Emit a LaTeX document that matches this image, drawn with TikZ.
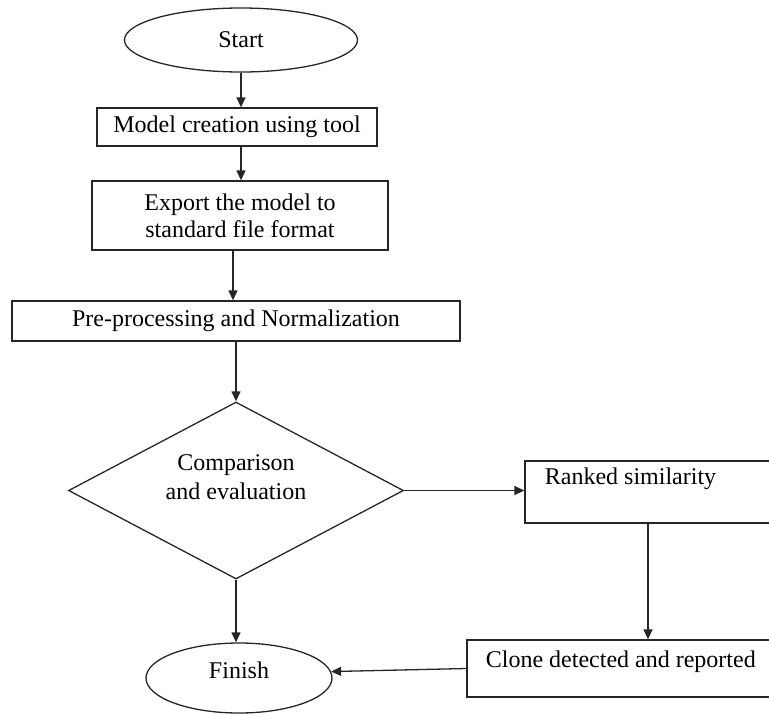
\documentclass[tikz,border=0pt]{standalone}
\usepackage{fontspec}
\setmainfont{Liberation Serif}
\usetikzlibrary{shapes.geometric,arrows.meta}
\begin{document}
\begin{tikzpicture}[x=1pt,y=-1pt,
  every node/.style={font=\fontsize{24}{27}\selectfont, text=black},
  line/.style={draw=black!85, line width=1.3pt},
  arr/.style={line, -{Triangle[length=10pt,width=9pt]}},
  boxnode/.style={line, rectangle, inner sep=0pt, align=center},
  ovalnode/.style={line, ellipse, inner sep=0pt},
  dianode/.style={line, diamond, inner sep=0pt}
]
\useasboundingbox (0,0) rectangle (769,713);
\clip (0,0) rectangle (769,713);

\node[ovalnode, minimum width=233pt, minimum height=64pt] (start) at (241,40) {Start};
\node[boxnode, minimum width=280pt, minimum height=38pt] (m1) at (237,127) {Model creation using tool};
\node[boxnode, minimum width=296pt, minimum height=69pt] (m2) at (240,215.5) {Export the model to\\standard file format};
\node[boxnode, minimum width=448pt, minimum height=40pt] (m3) at (236,321) {Pre-processing and Normalization};
\node[dianode, minimum width=335pt, minimum height=177pt,
      label={[align=center, yshift=13pt, font=\fontsize{24}{29}\selectfont]center:Comparison\\and evaluation}] (dia) at (236,490.5) {};
\node[boxnode, minimum width=250pt, minimum height=62pt,
      label={[anchor=base west, xshift=17pt, yshift=-24pt]north west:Ranked similarity}] (ranked) at (650,492) {};
\node[boxnode, minimum width=308pt, minimum height=57pt,
      label={[anchor=base west, xshift=16pt, yshift=-28pt]north west:Clone detected and reported}] (clone) at (621,668.5) {};
\node[ovalnode, minimum width=186pt, minimum height=70pt,
      label={[yshift=8pt]center:Finish}] (fin) at (239,678) {};

\draw[arr] (start.south) -- (start.south |- m1.north);
\draw[arr] (start.south |- m1.south) -- (start.south |- m2.north);
\draw[arr] ([xshift=-7pt]m2.south) -- ([xshift=-7pt]m2.south |- m3.north);
\draw[arr] (dia.north |- m3.south) -- (dia.north);
\draw[arr] (dia.south) -- (dia.south |- fin.north);
\draw[arr] (dia.east) -- (dia.east -| ranked.west);
\draw[arr] ([xshift=-2pt]ranked.south) -- ([xshift=-2pt]ranked.south |- clone.north);
\draw[arr] (clone.west) -- (fin.4);
\end{tikzpicture}
\end{document}
